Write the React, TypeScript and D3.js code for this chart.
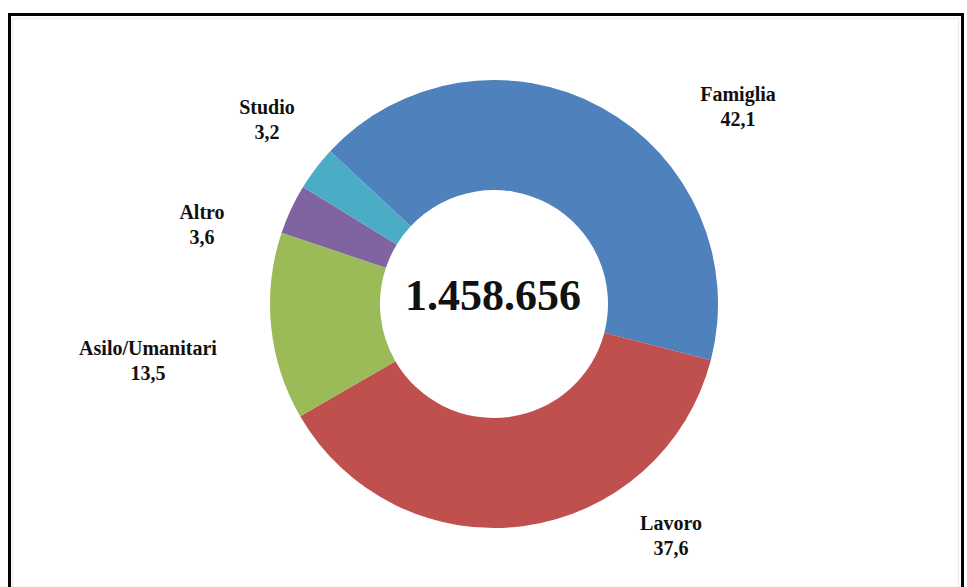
import React from "react";
import * as d3 from "d3";

const categories = ["Famiglia", "Lavoro", "Asilo/Umanitari", "Altro", "Studio"];
const values = [42.1, 37.6, 13.5, 3.6, 3.2];
const valueLabels = ["42,1", "37,6", "13,5", "3,6", "3,2"];
const totalLabel = "1.458.656";

const colors = ["#4F81BD", "#C0504D", "#9BBB59", "#8064A2", "#4BACC6"];
// label anchor offsets from the donut centre (layout, not data)
const labelOffsets: [number, number][] = [
  [244, -203],
  [177, 226],
  [-346, 51],
  [-292, -85],
  [-227, -190],
];

const W = 967;
const H = 587;
const cx = 494;
const cy = 304;
const outerR = 224;
const innerR = 114;
const startDeg = -47;

export default function App() {
  const start = (startDeg * Math.PI) / 180;
  const pie = d3
    .pie<number>()
    .sort(null)
    .value((d) => d)
    .startAngle(start)
    .endAngle(start + 2 * Math.PI);
  const arcs = pie(values);
  const arc = d3.arc<d3.PieArcDatum<number>>().innerRadius(innerR).outerRadius(outerR);
  const font = "Liberation Serif, Times New Roman, serif";

  return (
    <svg
      width={W}
      height={H}
      style={{ position: "absolute", left: 0, top: 0, background: "#fff" }}
    >
      <rect x={0} y={0} width={W} height={H} fill="#fff" />
      <rect x={12.5} y={18.5} width={946} height={H} fill="none" stroke="#ececec" strokeWidth={1.5} />
      <rect x={9.5} y={14.5} width={953} height={H + 10} fill="none" stroke="#000" strokeWidth={3} />
      <g transform={`translate(${cx},${cy})`}>
        {arcs.map((a, i) => (
          <path key={categories[i]} d={arc(a) || ""} fill={colors[i]} />
        ))}
        <text
          x={-1}
          y={6}
          textAnchor="middle"
          fontFamily={font}
          fontWeight="bold"
          fontSize={44}
          fill="#111"
        >
          {totalLabel}
        </text>
        {categories.map((c, i) => (
          <text
            key={c}
            x={labelOffsets[i][0]}
            y={labelOffsets[i][1]}
            textAnchor="middle"
            fontFamily={font}
            fontWeight="bold"
            fontSize={20}
            fill="#111"
          >
            <tspan x={labelOffsets[i][0]} dy={0}>{c}</tspan>
            <tspan x={labelOffsets[i][0]} dy={25}>{valueLabels[i]}</tspan>
          </text>
        ))}
      </g>
    </svg>
  );
}
